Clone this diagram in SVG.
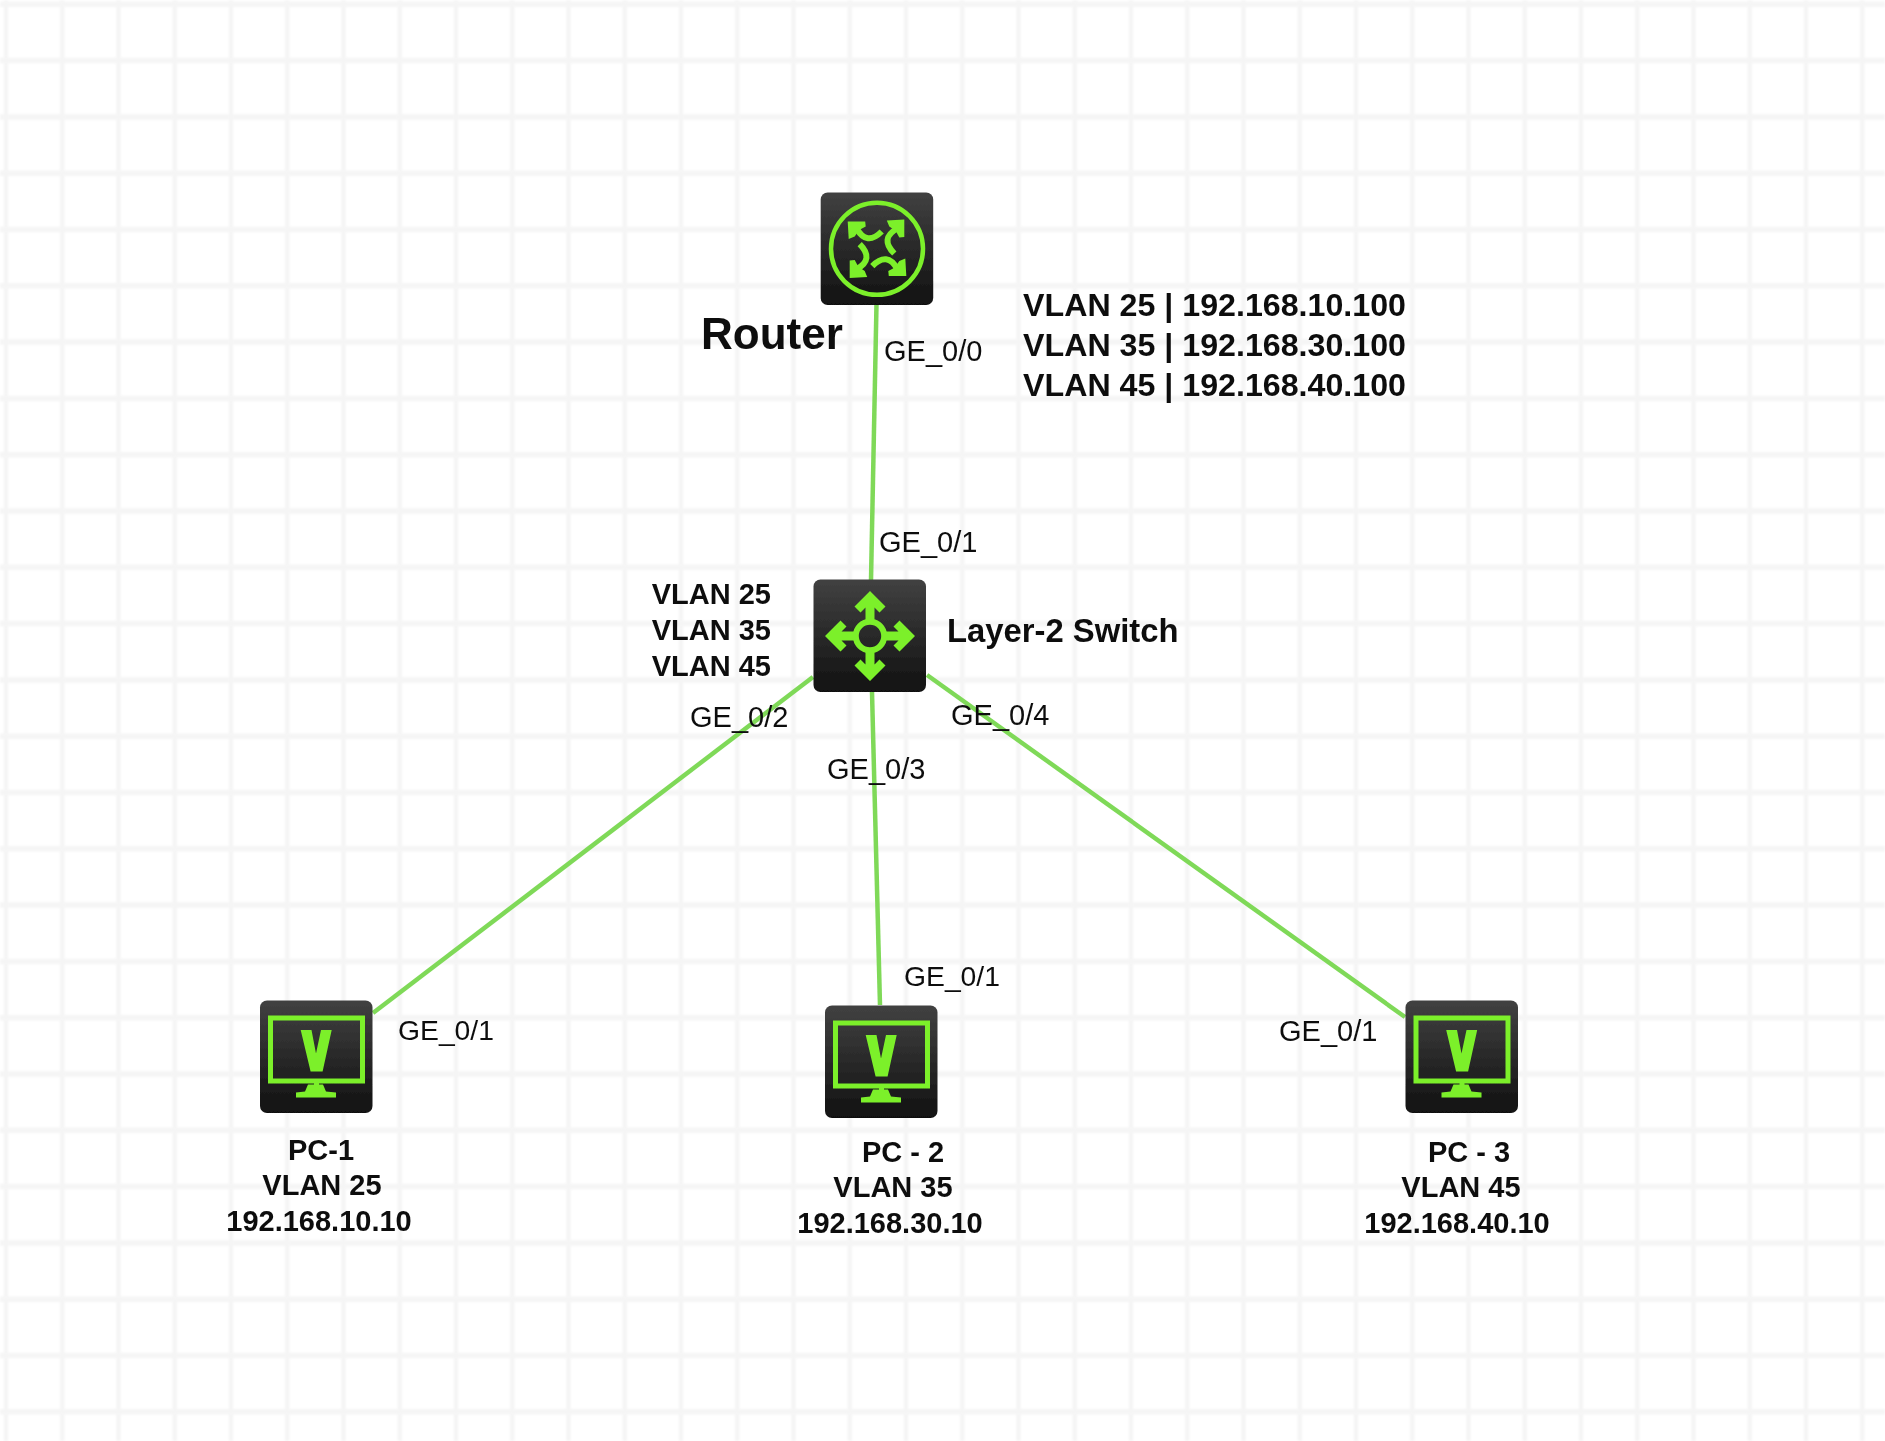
<svg xmlns="http://www.w3.org/2000/svg" width="1885" height="1441" viewBox="0 0 1885 1441">
<style>
text{font-family:"Liberation Sans",Arial,sans-serif;fill:#111}
.port{font-size:29px}
.port2{font-size:28.3px}
.info{font-size:29px;font-weight:bold}
.big{font-size:32.2px;font-weight:bold}
.mid{text-anchor:middle}
.end{text-anchor:end}
.link{stroke:#7fd958;stroke-width:4.5;fill:none}
.g{fill:#7cf02c}
.gs{stroke:#7cf02c;fill:none}
</style>
<defs>
<filter id="soft" x="-1%" y="-1%" width="102%" height="102%"><feGaussianBlur stdDeviation="0.45"/></filter>
<filter id="softgrid" x="0" y="0" width="100%" height="100%"><feGaussianBlur stdDeviation="1"/></filter>
<linearGradient id="box" x1="0" y1="0" x2="0" y2="1"><stop offset="0" stop-color="#414141"/><stop offset="1" stop-color="#111"/></linearGradient>
<rect id="tile" width="112.5" height="112.5" rx="7" fill="url(#box)"/>
<g id="rhead"><polygon class="g" points="27,29 44.5,29 45,34 38.5,37.5 34,44 28,46.5"/><path class="gs" stroke-width="6" d="M36,36 Q46,54 61,39"/></g>
<g id="sarm"><polygon class="g" points="56.5,11.5 72,27 66,33 61,28 61,42 52,42 52,28 47,33 41,27"/></g>
<g id="pc">
<use href="#tile"/>
<rect class="gs" x="10.5" y="17.5" width="92" height="63" stroke-width="5"/>
<polygon class="g" points="40.7,29.5 51.5,29.5 56,53 61,29.5 71.7,29.5 62.6,71 50.6,71"/>
<polygon class="g" points="54,80 59,80 59,84 63,84 66,91 76,92 76,97 36,97 36,92 45,91 48,84 54,84"/>
</g>
</defs>
<rect width="1885" height="1441" fill="#fff"/>
<g id="grid" filter="url(#softgrid)">
<path stroke="#f4f4f4" stroke-width="4" fill="none" d="M6,0V1441M62.25,0V1441M118.5,0V1441M174.75,0V1441M231,0V1441M287.25,0V1441M343.5,0V1441M399.75,0V1441M456,0V1441M512.25,0V1441M568.5,0V1441M624.75,0V1441M681,0V1441M737.25,0V1441M793.5,0V1441M849.75,0V1441M906,0V1441M962.25,0V1441M1018.5,0V1441M1074.75,0V1441M1131,0V1441M1187.25,0V1441M1243.5,0V1441M1299.75,0V1441M1356,0V1441M1412.25,0V1441M1468.5,0V1441M1524.75,0V1441M1581,0V1441M1637.25,0V1441M1693.5,0V1441M1749.75,0V1441M1806,0V1441M1862.25,0V1441"/>
<path stroke="#f5f5f5" stroke-width="5.5" fill="none" d="M0,4.3H1885M0,60.6H1885M0,116.9H1885M0,173.2H1885M0,229.5H1885M0,285.8H1885M0,342.1H1885M0,398.4H1885M0,454.7H1885M0,511H1885M0,567.3H1885M0,623.6H1885M0,679.9H1885M0,736.2H1885M0,792.5H1885M0,848.8H1885M0,905.1H1885M0,961.4H1885M0,1017.7H1885M0,1074H1885M0,1130.3H1885M0,1186.6H1885M0,1242.9H1885M0,1299.2H1885M0,1355.5H1885M0,1411.8H1885"/>
</g>
<g filter="url(#soft)">
<g id="connectors">
<line class="link" x1="876.5" y1="304" x2="871" y2="580"/>
<line class="link" x1="872" y1="692" x2="880" y2="1005"/>
<line class="link" x1="813" y1="677" x2="373" y2="1013"/>
<line class="link" x1="927" y1="675" x2="1405" y2="1017"/>
</g>
<g id="router">
<g transform="translate(820.7 192.5)">
<use href="#tile"/>
<circle class="gs" cx="56.3" cy="56.3" r="46" stroke-width="4.5"/>
<use href="#rhead"/>
<use href="#rhead" transform="rotate(90 56.3 56.3)"/>
<use href="#rhead" transform="rotate(180 56.3 56.3)"/>
<use href="#rhead" transform="rotate(270 56.3 56.3)"/>
</g>
<text x="701" y="349" font-size="44" font-weight="bold">Router</text>
<text class="port" x="884" y="361">GE_0/0</text>
<text class="big" x="1023" y="316">VLAN 25 | 192.168.10.100</text>
<text class="big" x="1023" y="356">VLAN 35 | 192.168.30.100</text>
<text class="big" x="1023" y="396">VLAN 45 | 192.168.40.100</text>
</g>
<g id="switch">
<g transform="translate(813.5 579.5)">
<use href="#tile"/>
<circle class="gs" cx="56.5" cy="56.5" r="14.2" stroke-width="6"/>
<use href="#sarm"/>
<use href="#sarm" transform="rotate(90 56.5 56.5)"/>
<use href="#sarm" transform="rotate(180 56.5 56.5)"/>
<use href="#sarm" transform="rotate(270 56.5 56.5)"/>
</g>
<text class="port" x="879" y="552">GE_0/1</text>
<text class="info end" x="771" y="604">VLAN 25</text>
<text class="info end" x="771" y="640">VLAN 35</text>
<text class="info end" x="771" y="676">VLAN 45</text>
<text x="947" y="642" font-size="32.8" font-weight="bold">Layer-2 Switch</text>
<text class="port" x="690" y="727">GE_0/2</text>
<text class="port" x="827" y="779">GE_0/3</text>
<text class="port" x="951" y="725">GE_0/4</text>
</g>
<g id="pc1">
<use href="#pc" transform="translate(260 1000.5)"/>
<text class="port2" x="398" y="1040">GE_0/1</text>
<text class="info mid" x="321" y="1160">PC-1</text>
<text class="info mid" x="322" y="1195">VLAN 25</text>
<text class="info mid" x="319" y="1231">192.168.10.10</text>
</g>
<g id="pc2">
<use href="#pc" transform="translate(825 1005.5)"/>
<text class="port2" x="904" y="986">GE_0/1</text>
<text class="info mid" x="903" y="1162">PC - 2</text>
<text class="info mid" x="893" y="1197">VLAN 35</text>
<text class="info mid" x="890" y="1233">192.168.30.10</text>
</g>
<g id="pc3">
<use href="#pc" transform="translate(1405.5 1000.5)"/>
<text class="port" x="1279" y="1041">GE_0/1</text>
<text class="info mid" x="1469" y="1162">PC - 3</text>
<text class="info mid" x="1461" y="1197">VLAN 45</text>
<text class="info mid" x="1457" y="1233">192.168.40.10</text>
</g>
</g>
</svg>
